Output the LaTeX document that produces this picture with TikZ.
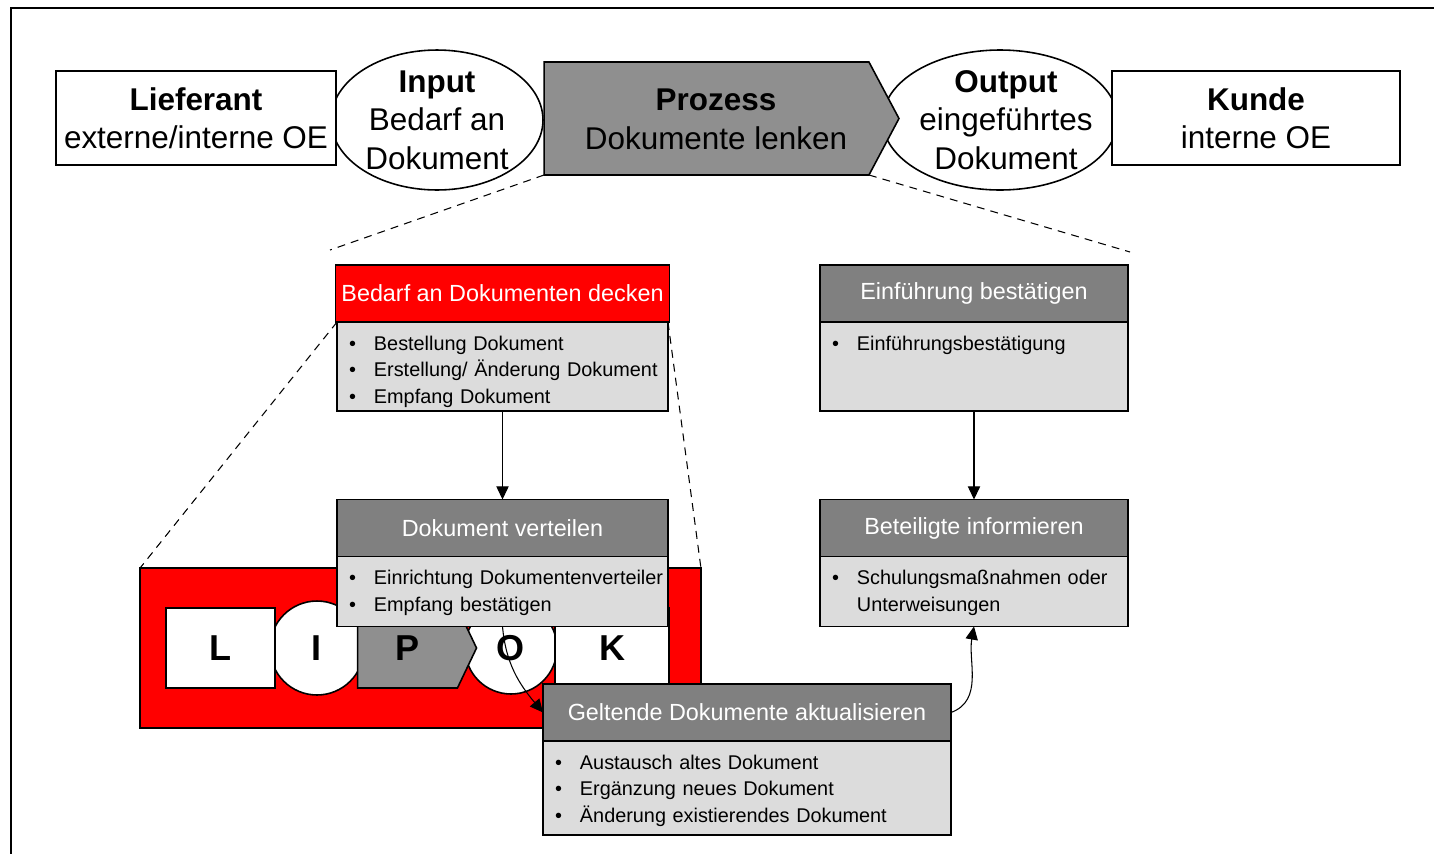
\documentclass[tikz,border=0pt]{standalone}
\usepackage{fontspec}
\setmainfont{Liberation Sans}
\usetikzlibrary{positioning,shapes.geometric,shapes.symbols,arrows.meta}

\definecolor{headgray}{HTML}{808080}
\definecolor{procgray}{HTML}{8F8F8F}
\definecolor{bodygray}{HTML}{DCDCDC}
\definecolor{lipokred}{HTML}{FF0000}

\newcommand{\topfont}{\fontsize{17.9}{21.9}\selectfont}
\newcommand{\headfont}{\fontsize{13.3}{16}\selectfont}
\newcommand{\itemfont}{\fontsize{11.3}{15.1}\selectfont}
\newcommand{\letterfont}{\fontsize{20.5}{24}\selectfont\bfseries}
% one bullet line, never broken
\newcommand{\bitem}[1]{\mbox{\makebox[14.2pt][l]{\textbullet}#1}}
\newcommand{\bltgap}{\makebox[14.2pt]{}}

\tikzset{
  topbox/.style={draw,fill=white,line width=0.9pt,minimum height=1.88cm,align=center,font=\topfont},
  oval/.style={draw,fill=white,ellipse,line width=0.9pt,minimum height=2.8cm},
  toptext/.style={align=center,font=\topfont},
  procbox/.style={draw,fill=procgray,line width=0.9pt,signal,signal to=east},
  head/.style={draw,fill=headgray,text=white,line width=0.9pt,minimum height=1.14cm,font=\headfont},
  body/.style={draw,fill=bodygray,line width=0.9pt,align=left,inner xsep=0.24cm,inner ysep=6.5pt,text height=9.5pt,font=\itemfont},
  letter/.style={draw,fill=white,line width=0.9pt,minimum height=1.6cm,font=\letterfont},
  flow/.style={-{Triangle[length=7.5pt,width=7pt]},line width=0.6pt},
  zoomline/.style={line width=0.6pt,dash pattern=on 4.5pt off 3.5pt}
}

\begin{document}
\begin{tikzpicture}[x=0.02cm,y=-0.02cm,every node/.style={outer sep=0pt}]
  \useasboundingbox (0,0) rectangle (1434,853);
  \draw[line width=1.4pt] (11,8) rectangle (1460,880);

  % supplier - input - process - output - customer
  \node[oval,minimum width=4.24cm] (inp) at (437,120) {};
  \node[oval,minimum width=4.7cm] (outp) at (1000,120) {};
  \node[procbox,signal pointer angle=124,minimum width=7.1cm,minimum height=2.26cm] (proz) at (706.5,118.5) {};
  \node[topbox,minimum width=5.6cm] (lief) at (196,118) {\textbf{Lieferant}\\externe/interne OE};
  \node[topbox,minimum width=5.76cm] (kunde) at (1256,118) {\textbf{Kunde}\\interne OE};
  \node[toptext] (inpT) at (inp.center) {\textbf{Input}\\Bedarf an\\Dokument};
  \node[toptext] (prozT) at (716,119.5) {\textbf{Prozess}\\Dokumente lenken};
  \node[toptext] (outpT) at ([xshift=0.12cm]outp.center) {\textbf{Output}\\eingeführtes\\Dokument};

  \coordinate (zl) at (330,250);
  \coordinate (zr) at (1130,252);
  \draw[zoomline] (proz.west |- proz.south) -- (zl);
  \draw[zoomline] ([xshift=-0.6cm]proz.east |- proz.south) -- (zr);

  % small LIPOK strip
  \node[draw,fill=lipokred,line width=0.9pt,minimum width=11.22cm,minimum height=3.2cm] (lipok) at (420.5,648) {};
  \node[letter,circle,minimum size=1.88cm] (lI) at (317,648) {I};
  \node[letter,circle,minimum size=1.84cm] (lO) at (511,648) {O};
  \node[letter,minimum width=2.18cm] (lL) at (220.5,648) {L};
  \node[letter,fill=procgray,signal,signal to=east,signal pointer angle=129,minimum width=2.38cm] (lP) at (407.5,648) {P};
  \node[letter,minimum width=2.28cm] (lK) at (612,648) {K};

  % process steps
  \node[head,fill=lipokred,minimum width=6.62cm] (bedarf) at (502.5,293.5) {Bedarf an Dokumenten decken};
  \node[body,text width=6.14cm,text depth=28pt,below=0pt of bedarf] (bedarfB) {\bitem{Bestellung Dokument}\\\bitem{Erstellung/ Änderung Dokument}\\\bitem{Empfang Dokument}};

  \draw[zoomline] (bedarfB.north west) -- (lipok.north west);
  \draw[zoomline] (bedarfB.north east) -- (lipok.north east);

  \node[head,minimum width=6.62cm] (vert) at (502.5,528) {Dokument verteilen};
  \node[body,text width=6.14cm,text depth=17.3pt,below=0pt of vert] (vertB) {\bitem{Einrichtung Dokumentenverteiler}\\\bitem{Empfang bestätigen}};

  \node[head,minimum width=6.16cm] (einf) at (974,293.5) {Einführung bestätigen};
  \node[body,text width=5.68cm,text depth=28pt,below=0pt of einf] (einfB) {\bitem{Einführungsbestätigung}};

  \node[head,minimum width=6.16cm] (betei) at (974,528) {Beteiligte informieren};
  \node[body,text width=5.68cm,text depth=17.3pt,below=0pt of betei] (beteiB) {\bitem{Schulungsmaßnahmen oder}\\\bltgap Unterweisungen};

  \node[head,minimum width=8.16cm] (gelt) at (747,712.5) {Geltende Dokumente aktualisieren};
  \node[body,text width=7.68cm,text depth=31pt,below=0pt of gelt] (geltB) {\bitem{Austausch altes Dokument}\\\bitem{Ergänzung neues Dokument}\\\bitem{Änderung existierendes Dokument}};

  \draw[flow] (bedarfB) -- (vert);
  \draw[flow] (einfB) -- (betei);
  \draw[flow] (vertB.south) to[out=-85,in=130] (gelt.west);
  \draw[flow] (gelt.east) to[out=20,in=-100] (beteiB.south);
\end{tikzpicture}
\end{document}
